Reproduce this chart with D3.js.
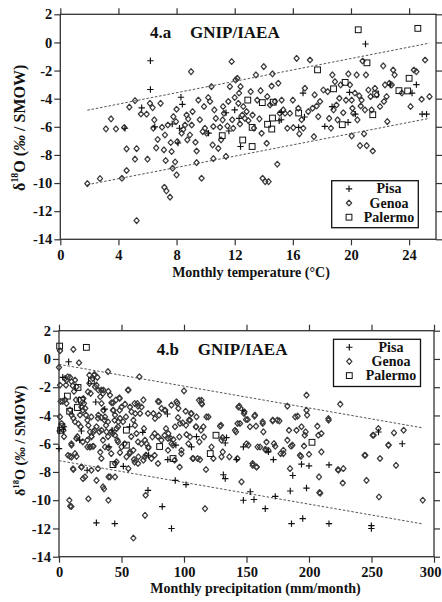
<!DOCTYPE html>
<html><head><meta charset="utf-8">
<script src="https://cdn.jsdelivr.net/npm/d3@7"></script>
<style>
html,body{margin:0;padding:0;background:#fff;}
svg{display:block;}
text{font-family:"Liberation Serif","Times New Roman",serif;font-weight:bold;fill:#111;}
</style></head>
<body>
<script>
// ---------- DATA ----------
// Panel 4.a : temperature (°C) vs δ18O
const tempTicks = [0, 4, 8, 12, 16, 20, 24];
const deltaTicks = [2, 0, -2, -4, -6, -8, -10, -12, -14];
const tempPisa = [[6.2,-1.3],[6.2,-3.35],[8.3,-3.9],[5.6,-4.65],[4.45,-6.1],[6.5,-6.0],[7.7,-5.8],[8.2,-6.1],[8.1,-7.15],[10.2,-6.45],[11.6,-6.3],[12.0,-4.8],[12.3,-5.4],[12.4,-7.4],[15.2,-5.5],[16.7,-3.6],[16.8,-5.3],[18.2,-5.97],[18.7,-4.57],[19.9,-3.55],[19.8,-5.68],[20.3,-5.1],[21.0,-0.11],[22.7,-3.03],[24.2,-3.6],[24.5,-3.0],[24.9,-5.1],[25.2,-5.1],[15.2,-4.97],[15.06,-5.57],[16.4,-6.04],[8.4,-4.4],[11.4,-5.0]];
const tempGenoa = [[1.86,-10.04],[2.73,-9.68],[3.14,-6.15],[3.49,-5.44],[3.83,-6.15],[4.24,-9.66],[4.4,-6.05],[4.56,-7.57],[4.56,-9.11],[4.75,-4.6],[5.14,-4.14],[5.14,-8.3],[5.25,-7.55],[5.25,-12.67],[5.55,-5.09],[5.94,-5.1],[6.0,-8.3],[6.17,-4.33],[6.35,-4.64],[6.4,-6.1],[6.47,-5.51],[6.6,-7.5],[6.7,-6.9],[6.9,-4.33],[7.0,-6.03],[7.13,-7.64],[7.2,-6.58],[7.16,-10.3],[7.25,-8.4],[7.3,-10.56],[7.4,-5.87],[7.55,-11.0],[7.6,-7.12],[7.66,-7.76],[7.73,-8.95],[7.78,-5.28],[7.9,-8.5],[7.96,-5.63],[8.0,-9.42],[8.05,-7.05],[8.0,-4.75],[8.35,-6.46],[8.46,-6.18],[8.58,-5.87],[8.69,-5.16],[8.74,-6.93],[8.8,-5.44],[8.92,-6.58],[9.0,-2.08],[9.04,-5.87],[9.1,-4.92],[9.3,-7.1],[9.38,-7.72],[9.38,-8.55],[9.5,-4.1],[9.6,-5.5],[9.72,-9.66],[9.8,-6.34],[9.89,-4.56],[9.95,-6.1],[10.07,-6.46],[10.18,-3.92],[10.3,-4.2],[10.4,-3.14],[10.48,-7.29],[10.53,-5.98],[10.53,-8.26],[10.6,-4.8],[10.7,-5.4],[10.87,-7.53],[10.99,-6.03],[11.06,-6.93],[11.17,-5.51],[11.2,-4.56],[11.26,-5.04],[11.4,-8.1],[11.5,-5.94],[11.56,-4.2],[11.67,-3.14],[11.79,-1.36],[11.83,-5.5],[11.9,-6.1],[12.0,-3.92],[12.06,-2.67],[12.18,-2.55],[12.25,-4.33],[12.3,-3.6],[12.36,-5.8],[12.4,-3.14],[12.52,-5.16],[12.59,-4.56],[12.7,-5.4],[12.82,-4.92],[12.94,-5.56],[13.1,-3.5],[13.23,-5.16],[13.33,-6.1],[13.46,-2.31],[13.55,-4.1],[13.7,-5.44],[13.78,-3.43],[13.85,-6.46],[13.92,-9.66],[14.0,-1.72],[14.1,-9.9],[14.2,-7.17],[14.24,-3.85],[14.33,-9.9],[14.43,-4.45],[14.54,-3.1],[14.6,-2.24],[14.77,-4.2],[14.93,-8.66],[15.0,-2.9],[15.1,-5.04],[15.23,-4.1],[15.34,-4.8],[15.46,-5.04],[15.62,-6.1],[15.8,-5.04],[16.0,-4.1],[16.03,-6.06],[16.26,-1.13],[16.38,-4.68],[16.45,-6.5],[16.6,-5.5],[16.72,-6.1],[16.83,-3.26],[17.06,-4.92],[17.18,-1.25],[17.36,-4.68],[17.45,-6.7],[17.5,-3.73],[17.64,-4.52],[17.75,-5.28],[17.87,-4.2],[18.1,-3.38],[18.4,-3.5],[18.5,-5.4],[18.62,-6.1],[18.72,-2.31],[18.8,-4.8],[18.9,-2.79],[19.0,-4.45],[19.08,-5.51],[19.2,-3.97],[19.29,-3.02],[19.47,-5.0],[19.66,-4.1],[19.82,-2.24],[19.93,-3.02],[20.05,-4.1],[20.05,-6.65],[20.1,-4.68],[20.16,-5.04],[20.27,-3.6],[20.39,-2.31],[20.44,-5.51],[20.57,-3.8],[20.62,-7.34],[20.67,-4.52],[20.73,-4.1],[20.8,-1.32],[20.9,-6.5],[20.96,-4.8],[21.03,-2.31],[21.08,-7.34],[21.2,-3.38],[21.35,-3.85],[21.42,-4.8],[21.5,-7.72],[21.65,-3.26],[21.77,-3.73],[22.0,-4.56],[22.22,-1.67],[22.27,-4.2],[22.34,-3.02],[22.45,-3.85],[22.5,-5.63],[22.64,-2.9],[22.8,-3.02],[22.9,-1.96],[23.0,-2.31],[23.5,-3.6],[24.1,-4.56],[24.33,-1.96],[24.5,-2.08],[24.86,-4.04],[25.1,-1.25],[25.4,-3.85]];
const tempPalermo = [[20.5,0.9],[24.6,1.0],[21.1,-1.45],[17.7,-1.95],[12.9,-4.1],[13.9,-4.28],[14.65,-4.25],[14.6,-5.38],[14.55,-6.16],[14.26,-5.82],[13.2,-6.04],[13.2,-7.4],[12.55,-6.94],[11.14,-6.63],[16.4,-5.02],[19.4,-5.85],[19.6,-2.84],[18.8,-3.3],[21.7,-3.67],[21.5,-5.14],[23.3,-3.43],[24.0,-2.55],[23.9,-3.45]];
// Panel 4.b : precipitation (mm/month) vs δ18O
const precipTicks = [0, 50, 100, 150, 200, 250, 300];
const precipPisa = [[7.7,-0.2],[0,-6.35],[0.5,-5.1],[4.0,-4.8],[3.0,-1.3],[16.5,-5.75],[22.5,-7.88],[29.9,-11.6],[44.6,-11.66],[40.0,-6.22],[42.5,-5.05],[51.5,-7.6],[71.2,-9.3],[71.7,-6.82],[82.6,-10.45],[90,-12.0],[87,-7.13],[86.7,-3.9],[93.5,-6.1],[93,-8.6],[101.6,-8.9],[106,-6.23],[110,-5.5],[131.5,-8.2],[133,-8.47],[133,-5.95],[134,-5.57],[142,-7.13],[147,-3.63],[147.5,-6.23],[147.5,-10.0],[153,-9.4],[156,-9.95],[165,-10.6],[167.5,-6.58],[171.5,-7.13],[173,-9.73],[185,-9.35],[187,-8.25],[186,-11.66],[194,-7.45],[195,-11.3],[198,-9.14],[200,-7.57],[216,-11.66],[216,-7.5],[249.9,-11.8],[249.9,-12.0],[255.6,-5.17],[274.6,-6.0],[29.4,-3.05],[36.6,-3.55],[67,-5.2],[17.9,-5.1],[56.5,-4.8]];
const precipGenoa = [[0.8,0.58],[11.5,0.68],[16,-0.27],[0,-0.6],[0.8,-1.85],[1.3,-3.0],[0.8,-4.1],[2.1,-4.57],[3.5,-5.05],[4,-5.5],[4.8,-1.38],[5.6,-1.85],[6,-1.5],[7,-1.26],[8.8,-1.3],[10,-1.6],[11,-1.9],[12,-2.3],[12.8,-1.5],[14,-1.97],[16.3,-2.9],[13.6,-2.9],[4.8,-2.9],[3,-3.0],[6,-3.15],[8.8,-3.6],[10,-3.97],[11.5,-4.2],[12.8,-4.45],[15.5,-4.6],[16.8,-3.97],[17.3,-4.8],[18,-3.4],[19,-3.63],[19.5,-2.8],[20,-3.15],[21,-3.5],[21.6,-3.97],[22.7,-4.33],[23.5,-4.7],[24.3,-1.73],[24.3,-1.14],[25.3,-2.44],[27,-1.38],[28,-1.14],[28.8,-1.97],[30,-1.85],[31.5,-2.2],[33,-2.68],[34,-3.15],[35.5,-3.63],[36.8,-4.1],[37.6,-4.7],[38,-5.16],[39.5,-2.3],[40.8,-2.56],[35.5,-2.2],[34,-5.05],[31.5,-3.97],[30,-4.8],[27.5,-5.16],[24.8,-5.16],[26,-5.5],[22.7,-5.75],[19,-5.87],[14.7,-5.5],[10,-6.1],[8.8,-6.9],[10,-6.95],[12.8,-6.7],[14,-6.9],[11.5,-7.83],[18,-7.65],[20.8,-8.35],[22.7,-6.23],[25.3,-6.23],[27.5,-6.18],[33,-6.6],[36.8,-6.23],[39.5,-6.3],[40.8,-8.35],[44.8,-8.35],[36,-9.2],[30,-8.6],[23.5,-9.9],[8.3,-10.0],[9,-10.43],[39.5,-10.0],[68.8,-11.07],[59.5,-12.68],[69.3,-9.65],[46,-7.29],[44.8,-7.4],[48.8,-6.63],[50,-6.23],[46.7,-5.75],[44.8,-5.4],[42.9,-5.28],[46,-4.93],[47.5,-4.45],[48.8,-4.2],[44.8,-3.97],[43.5,-3.63],[42,-3.1],[45.6,-2.9],[48.3,-2.75],[50,-3.4],[52.8,-3.2],[53.6,-4.1],[55.5,-2.2],[56.8,-3.4],[58,-3.74],[59.5,-4.33],[60.8,-4.7],[62,-5.28],[62.7,-3.15],[64.3,-1.26],[64.8,-3.86],[66,-3.4],[67.5,-2.9],[68,-4.93],[68.8,-5.75],[70,-6.0],[71.5,-6.23],[69.6,-6.8],[67.5,-7.17],[63.5,-6.93],[59.5,-6.46],[56.8,-6.58],[55.5,-7.76],[60,-7.12],[54,-6.93],[74.7,-5.52],[75.5,-3.86],[76.8,-4.22],[80,-3.98],[82,-3.5],[80,-3.03],[85,-3.63],[85.6,-4.93],[87.5,-5.28],[89,-5.6],[90,-6.0],[91.5,-5.7],[92.8,-4.8],[94,-3.03],[95.5,-3.5],[96.3,-5.52],[98,-6.46],[96.8,-4.57],[99,-4.52],[100,-2.26],[101.6,-4.69],[102,-5.35],[103.5,-6.0],[104,-4.33],[106,-3.86],[104.8,-5.52],[107.5,-7.05],[109.6,-4.8],[110,-4.1],[112,-2.92],[114,-2.92],[114,-3.15],[115.5,-4.8],[116,-5.52],[116.8,-10.6],[112.8,-7.13],[118,-4.1],[119.5,-4.1],[122,-6.23],[123.5,-7.05],[128.8,-4.76],[130,-5.75],[130,-6.93],[131,-6.58],[136.3,-6.93],[140.8,-5.05],[142.7,-7.05],[143.5,-3.4],[144.8,-4.57],[146,-8.7],[148,-3.86],[149.6,-4.29],[150,-6.0],[151.5,-6.1],[152.8,-4.8],[155,-7.53],[156.8,-3.98],[158,-7.65],[160.8,-6.23],[163,-4.57],[163.5,-5.16],[165,-6.4],[166,-5.88],[167.5,-6.46],[171,-4.33],[172,-5.99],[173,-6.18],[174.7,-4.33],[177.3,-6.7],[179.5,-6.46],[182.7,-3.34],[182.7,-5.75],[184,-5.05],[184.8,-7.76],[186.7,-6.1],[189,-4.1],[190,-5.05],[192.8,-6.82],[194,-4.8],[196,-6.16],[196.6,-5.4],[197.3,-5.16],[198,-2.56],[198,-3.63],[198.5,-3.98],[200,-6.75],[206.7,-4.76],[207.5,-5.4],[208,-8.35],[209,-9.5],[209.9,-6.58],[215.5,-4.22],[223.5,-7.88],[225,-3.2],[227,-8.78],[227.5,-7.76],[245,-6.82],[246,-8.6],[251,-5.4],[255.5,-4.93],[256,-9.77],[256.8,-7.05],[263.5,-6.1],[268,-5.23],[269.6,-7.53],[291,-10.0],[28.5,-1.1],[30.7,-1.3],[39.2,-0.9],[55.2,-2.2],[23.2,-2.33],[33.9,-2.2],[35.2,-2.44],[43.2,-3.1],[48.5,-2.8],[60.5,-3.15],[63.2,-3.34],[43.2,-3.63],[48.5,-3.63],[61,-3.86],[71.2,-3.86],[79.2,-3.0],[84.5,-3.63],[89.9,-3.27],[94.7,-3.15],[95.2,-4.15],[101.3,-3.7],[25.9,-4.1],[31.2,-4.2],[33.9,-4.15],[36.5,-4.34],[39.2,-4.45],[44.5,-4.34],[47.2,-4.8],[51.2,-4.45],[28.5,-5.05],[32.3,-5.16],[35.2,-5.75],[39.2,-5.5],[41.8,-5.16],[25.9,-5.5],[24.5,-6.23],[27.2,-6.18],[9.9,-6.0],[13.9,-5.63],[7.2,-6.82],[11.2,-7.77],[17.9,-7.65],[19.2,-8.47],[25.9,-7.88],[31.2,-7.76],[39.7,-8.35],[35.2,-9.06],[41.8,-6.7],[33.9,-7.05],[56.5,-6.7],[60.5,-7.3],[63.2,-7.4],[68.5,-6.94],[9.9,-10.45],[65.9,-6.0],[71.5,-6.3],[76.5,-5.28],[79.2,-5.5],[81.9,-5.75],[84.5,-5.4],[87.2,-5.63],[91.2,-6.1],[87.2,-6.46],[92.5,-7.17],[96.5,-7.65],[97.9,-6.7],[73.9,-7.05],[76.5,-6.82],[79.2,-7.4],[52.5,-6.0],[47.2,-5.87],[57.8,-5.5],[63.2,-5.87],[114.4,-3.2],[105.6,-3.86],[104.8,-4.33],[109.6,-4.8],[113.6,-5.05],[112.3,-5.87],[106.9,-7.05],[110.9,-7.05],[117.6,-7.83],[129.6,-4.69],[130.9,-5.57],[141.6,-5.16],[142.9,-4.57],[144.3,-3.34],[148.3,-3.74],[150.9,-4.29],[156.3,-4.05],[157.6,-4.76],[162.9,-4.45],[158.9,-6.23],[165.6,-6.46],[170.9,-4.38],[176.3,-4.38],[179.5,-6.7],[185.6,-6.18],[190.9,-4.05],[193.6,-6.9],[154.9,-7.4],[158.1,-7.65],[215.7,-4.33],[209.9,-5.28],[208.3,-9.46],[223.2,-7.83],[244.5,-6.82],[251.7,-5.4],[263.7,-6.1],[275.7,-5.05]];
const precipPalermo = [[0.5,0.91],[21.9,0.82],[25.9,-1.55],[15.2,-2.02],[6.7,-2.63],[17.9,-2.92],[14.7,-3.44],[8.5,-3.7],[2.4,-4.8],[1.3,-5.05],[53.9,-5.04],[53.9,-6.1],[80.5,-6.2],[91.2,-7.05],[43.2,-7.48],[125.6,-5.4],[121,-6.7],[202.4,-5.9]];
// Envelope (dashed) lines: [x, δ] end points
const tempUpper = [[1.86,-4.82],[25.4,-0.05]];
const tempLower = [[1.86,-10.12],[25.4,-5.4]];
const precipUpper = [[0,-0.38],[291,-4.88]];
const precipLower = [[0,-7.2],[291,-11.68]];
const seriesNames = ["Pisa", "Genoa", "Palermo"];

// ---------- DRAW ----------
const W = 442, H = 602;
const svg = d3.select("body").append("svg").attr("width", W).attr("height", H);

const diamondPath = "M0,-2.9L2.6,0L0,2.9L-2.6,0Z";
function drawSymbol(g, type, x, y) {
  if (type === "Pisa") {
    g.append("path").attr("d", `M${x-3.2},${y}H${x+3.2}M${x},${y-3.2}V${y+3.2}`)
      .attr("stroke", "#111").attr("stroke-width", 1.15).attr("fill", "none");
  } else if (type === "Genoa") {
    g.append("path").attr("d", diamondPath).attr("transform", `translate(${x},${y})`)
      .attr("stroke", "#3a3a3a").attr("stroke-width", 1.25).attr("stroke-linejoin", "round").attr("fill", "none");
  } else {
    g.append("rect").attr("x", x - 2.9).attr("y", y - 2.9).attr("width", 5.8).attr("height", 5.8)
      .attr("stroke", "#111").attr("stroke-width", 1).attr("fill", "none");
  }
}

function panel(cfg) {
  const x = d3.scaleLinear().domain(cfg.xDomain).range([cfg.x0, cfg.x1]);
  const y = d3.scaleLinear().domain([-14, 2]).range([cfg.y1, cfg.y0]);
  const g = svg.append("g");

  const styleAxis = a => {
    a.select(".domain").remove();
    a.selectAll(".tick line").attr("stroke", "#333").attr("stroke-width", 1.2);
    a.selectAll(".tick text").attr("font-family", '"Liberation Serif","Times New Roman",serif')
      .attr("font-weight", "bold").attr("font-size", 14.5).attr("fill", "#111");
  };
  const bx = g.append("g").attr("transform", `translate(0,${cfg.y1})`)
    .call(d3.axisBottom(x).tickValues(cfg.xTicks).tickSize(6).tickPadding(4).tickFormat(d3.format("d"))).call(styleAxis);
  // keep a label that would run past the page edge inside the page
  bx.selectAll(".tick text").each(function(d) {
    const el = d3.select(this);
    const px = x(d);
    const half = this.getComputedTextLength() / 2;
    if (px + half > W - 1) el.attr("text-anchor", "end").attr("x", W - 1 - px);
  });
  g.append("g").attr("transform", `translate(0,${cfg.y0})`)
    .call(d3.axisTop(x).tickValues(cfg.xTicks).tickSize(6).tickFormat("")).call(styleAxis);
  g.append("g").attr("transform", `translate(${cfg.x0},0)`)
    .call(d3.axisLeft(y).tickValues(deltaTicks).tickSize(6).tickPadding(2).tickFormat(d3.format("d"))).call(styleAxis);
  g.append("g").attr("transform", `translate(${cfg.x1},0)`)
    .call(d3.axisRight(y).tickValues(deltaTicks).tickSize(6).tickFormat("")).call(styleAxis);
  g.selectAll(".tick text").text(function(){ return d3.select(this).text().replace("−", "-"); });

  // frame
  g.append("rect").attr("x", cfg.x0).attr("y", cfg.y0)
    .attr("width", cfg.x1 - cfg.x0).attr("height", cfg.y1 - cfg.y0)
    .attr("fill", "none").attr("stroke", "#333").attr("stroke-width", 1.3);

  // dashed envelope lines
  const line = d3.line().x(d => x(d[0])).y(d => y(d[1]));
  [cfg.upper, cfg.lower].forEach(l => {
    g.append("path").attr("d", line(l)).attr("fill", "none")
      .attr("stroke", "#555").attr("stroke-width", 1).attr("stroke-dasharray", "2.5,1.8");
  });

  // points
  const pg = g.append("g");
  cfg.genoa.forEach(d => drawSymbol(pg, "Genoa", x(d[0]), y(d[1])));
  cfg.palermo.forEach(d => drawSymbol(pg, "Palermo", x(d[0]), y(d[1])));
  cfg.pisa.forEach(d => drawSymbol(pg, "Pisa", x(d[0]), y(d[1])));

  // title
  const t = g.append("text").attr("x", cfg.titleX).attr("y", cfg.titleY).attr("font-size", 17);
  t.append("tspan").text(cfg.tag);
  t.append("tspan").attr("x", cfg.titleX2).text("GNIP/IAEA");

  // x-axis title
  g.append("text").attr("x", cfg.xTitleX).attr("y", cfg.xTitleY).attr("text-anchor", "middle")
    .attr("font-size", 14).text(cfg.xTitle);

  // y-axis title (rotated)
  const yt = g.append("text").attr("transform", `translate(${cfg.yTitleX},${(cfg.y0 + cfg.y1) / 2 + cfg.yTitleShift}) rotate(-90)`)
    .attr("text-anchor", "middle").attr("font-size", cfg.yTitleSize);
  yt.append("tspan").text("δ");
  yt.append("tspan").attr("font-size", cfg.yTitleSize * 0.62).attr("dy", -cfg.yTitleSize * 0.4).text("18");
  yt.append("tspan").attr("dy", cfg.yTitleSize * 0.4).text("O (");
  yt.append("tspan").attr("font-style", "italic").text("‰");
  yt.append("tspan").text(" / SMOW)");

  // legend
  const L = cfg.legend;
  g.append("rect").attr("x", L.x0).attr("y", L.y0).attr("width", L.x1 - L.x0).attr("height", L.y1 - L.y0)
    .attr("fill", "#fff").attr("stroke", "#111").attr("stroke-width", 1.3);
  seriesNames.forEach((name, i) => {
    const cy = L.firstY + i * 14.2;
    drawSymbol(g, name, L.symX, cy - 4.5);
    g.append("text").attr("x", L.textX).attr("y", cy).attr("text-anchor", "middle")
      .attr("font-size", 14).text(name);
  });
}

panel({
  xDomain: [0, 25.85], x0: 60.3, x1: 436, y0: 14.3, y1: 239.3, xTicks: tempTicks,
  pisa: tempPisa, genoa: tempGenoa, palermo: tempPalermo, upper: tempUpper, lower: tempLower,
  tag: "4.a", titleX: 150, titleX2: 190, titleY: 38.3,
  xTitle: "Monthly temperature (°C)", xTitleX: 251, xTitleY: 276.5,
  yTitleX: 24.5, yTitleShift: 1, yTitleSize: 16,
  legend: { x0: 331.7, x1: 418.3, y0: 180.7, y1: 227.7, symX: 349, textX: 389, firstY: 193.3 }
});
panel({
  xDomain: [0, 300], x0: 59, x1: 434, y0: 330.7, y1: 556.7, xTicks: precipTicks,
  pisa: precipPisa, genoa: precipGenoa, palermo: precipPalermo, upper: precipUpper, lower: precipLower,
  tag: "4.b", titleX: 156.7, titleX2: 197.7, titleY: 355,
  xTitle: "Monthly precipitation (mm/month)", xTitleX: 255.5, xTitleY: 592.5,
  yTitleX: 24.5, yTitleShift: -3, yTitleSize: 14,
  legend: { x0: 333.5, x1: 420.5, y0: 339.3, y1: 386.5, symX: 349.3, textX: 391, firstY: 351.7 }
});
</script>
</body></html>
